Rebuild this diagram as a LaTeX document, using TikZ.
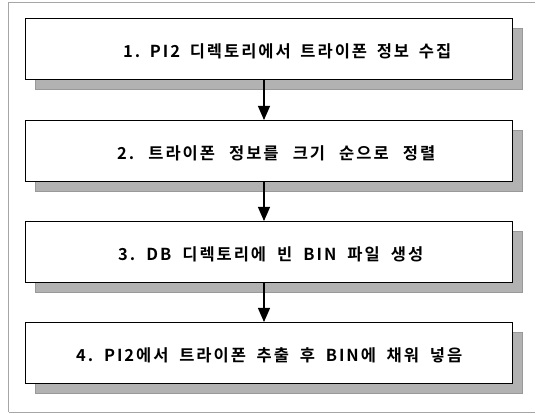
\documentclass[tikz,border=0pt]{standalone}
\usepackage{fontspec}
\setmainfont{Noto Sans CJK KR}[BoldFont={Noto Sans CJK KR Bold}]
\usetikzlibrary{arrows.meta}
\frenchspacing
\begin{document}
\begin{tikzpicture}[x=1pt,y=-1pt,
  stepbox/.style={draw=black,line width=1.3pt,fill=white,minimum width=487pt,minimum height=61pt,inner sep=0pt,anchor=north west},
  shadowbox/.style={fill=gray!60,draw=gray!80,line width=0.4pt},
  label/.style={font=\bfseries\fontsize{16.5}{18}\selectfont\addfontfeatures{LetterSpace=12}\frenchspacing,inner sep=0pt,anchor=west},
  arr/.style={line width=1.1pt,-{Triangle[length=14pt,width=12pt]}}]
\useasboundingbox (0,0) rectangle (536,414);
\draw[gray!70,line width=0.8pt] (8.5,2.5) -- (535,2.5);
\draw[gray!70,line width=0.8pt] (8.5,2.5) -- (8.5,412);
\draw[gray!70,line width=0.8pt] (8.5,412) -- (535,412);
\path[shadowbox] (35,28) rectangle (522,89);
\path[shadowbox] (35,130) rectangle (522,191);
\path[shadowbox] (35,231) rectangle (522,292);
\path[shadowbox] (35,332) rectangle (522,393);
\node[stepbox] (b1) at (25,18) {};
\node[stepbox] (b2) at (25,120) {};
\node[stepbox] (b3) at (25,221) {};
\node[stepbox] (b4) at (25,322) {};
\node[label] (t1) at ([yshift=-2.5pt]b1.center -| 123,0) {\makebox[328pt][s]{1. PI2 디렉토리에서 트라이폰 정보 수집}};
\node[label] (t2) at ([yshift=-2.5pt]b2.center -| 117,0) {\makebox[318pt][s]{2. 트라이폰 정보를 크기 순으로 정렬}};
\node[label] (t3) at ([yshift=-2.5pt]b3.center -| 118,0) {\makebox[305pt][s]{3. DB 디렉토리에 빈 BIN 파일 생성}};
\node[label] (t4) at ([yshift=-2.5pt]b4.center -| 76,0) {\makebox[386pt][s]{4. PI2에서 트라이폰 추출 후 BIN에 채워 넣음}};
\coordinate (ax) at (264,0);
\draw[arr] (b1.south -| ax) -- (b2.north -| ax);
\draw[arr] (b2.south -| ax) -- (b3.north -| ax);
\draw[arr] (b3.south -| ax) -- (b4.north -| ax);
\end{tikzpicture}
\end{document}
